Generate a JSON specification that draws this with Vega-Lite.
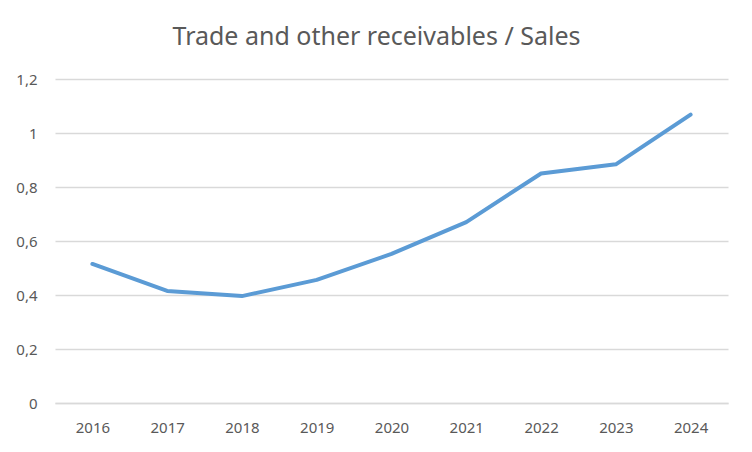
{
  "$schema": "https://vega.github.io/schema/vega-lite/v6.json",
  "autosize": {"type": "none"},
  "width": 673,
  "height": 324,
  "padding": {"left": 55, "top": 79, "right": 24, "bottom": 49},
  "background": "white",
  "title": {
    "text": "Trade and other receivables / Sales",
    "fontSize": 25,
    "font": "Noto Sans",
    "fontWeight": "normal",
    "color": "#595959",
    "anchor": "middle",
    "frame": "group",
    "dx": -15,
    "offset": 22
  },
  "data": {
    "values": [
      {"year": "2016", "ratio": 0.515},
      {"year": "2017", "ratio": 0.415},
      {"year": "2018", "ratio": 0.396},
      {"year": "2019", "ratio": 0.456},
      {"year": "2020", "ratio": 0.552},
      {"year": "2021", "ratio": 0.670},
      {"year": "2022", "ratio": 0.850},
      {"year": "2023", "ratio": 0.884},
      {"year": "2024", "ratio": 1.068}
    ]
  },
  "mark": {"type": "line", "color": "#5B9BD5", "strokeWidth": 4, "strokeCap": "round", "strokeJoin": "round"},
  "encoding": {
    "x": {
      "field": "year",
      "type": "ordinal",
      "scale": {"type": "point", "padding": 0.5},
      "axis": {
        "title": null,
        "labelAngle": 0,
        "ticks": false,
        "domain": true,
        "domainColor": "#D9D9D9",
        "domainWidth": 1.5,
        "labelFont": "Noto Sans",
        "labelFontSize": 15,
        "labelColor": "#595959",
        "labelPadding": 17,
        "grid": false
      }
    },
    "y": {
      "field": "ratio",
      "type": "quantitative",
      "scale": {"domain": [0, 1.2], "nice": false},
      "axis": {
        "title": null,
        "values": [0, 0.2, 0.4, 0.6, 0.8, 1, 1.2],
        "labelExpr": "replace(format(datum.value, '~g'), '.', ',')",
        "ticks": false,
        "domain": false,
        "grid": true,
        "gridColor": "#D9D9D9",
        "gridWidth": 1.5,
        "labelFont": "Noto Sans",
        "labelFontSize": 15,
        "labelColor": "#595959",
        "labelPadding": 18
      }
    }
  },
  "config": {"view": {"stroke": null}}
}
